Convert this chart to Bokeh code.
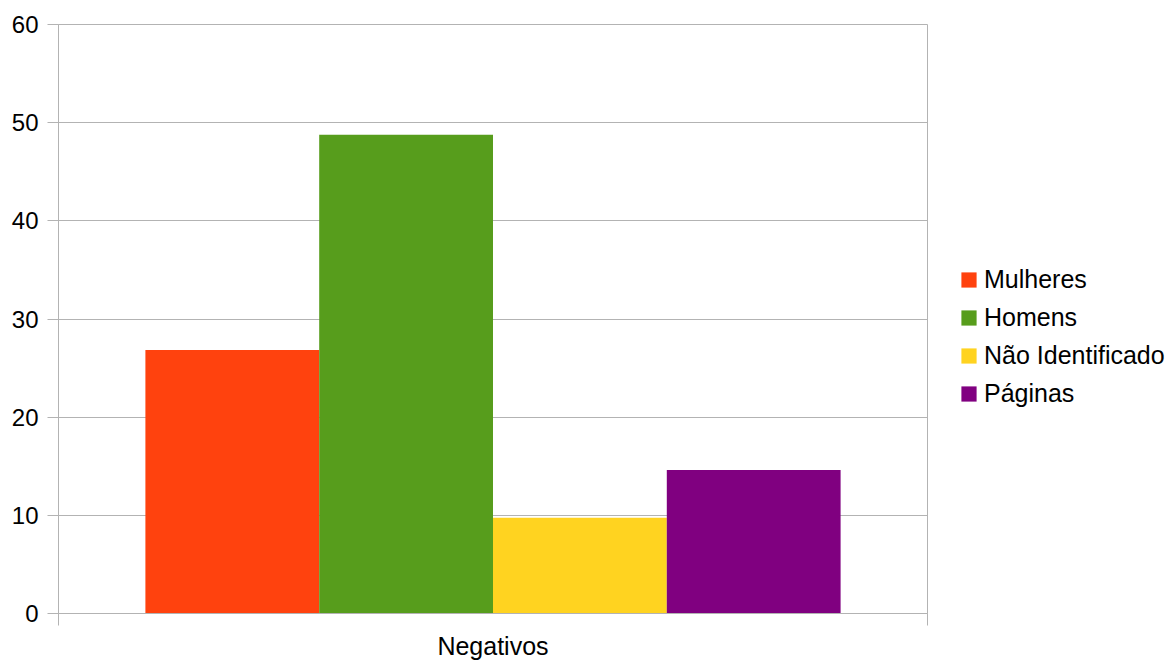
from bokeh.plotting import figure
from bokeh.layouts import row
from bokeh.models import (FactorRange, Range1d, LinearAxis, FixedTicker, Legend,
                          LegendItem, ColumnDataSource)
from bokeh.transform import dodge
from bokeh.embed import file_html
from bokeh.resources import INLINE

# ---- data ----
categories = ["Negativos"]
series = ["Mulheres", "Homens", "Não Identificado", "Páginas"]
values = [26.83, 48.78, 9.76, 14.63]
colors = ["#ff420e", "#579d1c", "#ffd320", "#800080"]
y_ticks = [0, 10, 20, 30, 40, 50, 60]

FONT = "Liberation Sans"
GRID = "#b3b3b3"

p = figure(x_range=FactorRange(factors=categories, range_padding=0),
           y_range=Range1d(0, 60),
           width=928, height=662,
           x_axis_type=None,
           output_backend="svg", toolbar_location=None,
           min_border_left=58, min_border_right=1,
           min_border_top=24, min_border_bottom=49)
p.outline_line_color = GRID
p.background_fill_color = "white"

# bars
n = len(series)
bar_w = 0.8 / n
sources = []
for i, (name, val, col) in enumerate(zip(series, values, colors)):
    src = ColumnDataSource(dict(cat=categories, val=[val]))
    sources.append(src)
    off = -0.4 + bar_w * (i + 0.5)
    p.vbar(x=dodge("cat", off, range=p.x_range), top="val", bottom=0,
           width=bar_w, source=src, fill_color=col, line_color=None)

# y axis
p.yaxis.ticker = FixedTicker(ticks=y_ticks, minor_ticks=[])
p.yaxis.axis_line_color = GRID
p.yaxis.major_tick_line_color = GRID
p.yaxis.major_tick_out = 11
p.yaxis.major_tick_in = 0
p.yaxis.minor_tick_line_color = None
p.yaxis.major_label_standoff = 9
p.yaxis.major_label_text_font = FONT
p.yaxis.major_label_text_font_size = "24px"
p.yaxis.major_label_text_color = "black"
p.ygrid.grid_line_color = GRID

# x axis on the category's synthetic coordinates (0..1):
# label at the category centre, boundary ticks at its edges
xaxis = LinearAxis(ticker=FixedTicker(ticks=[0.5], minor_ticks=[0, 1]),
                   major_label_overrides={0.5: categories[0]},
                   axis_line_color=GRID,
                   major_tick_line_color=None, major_tick_out=0, major_tick_in=0,
                   minor_tick_line_color=GRID, minor_tick_out=12, minor_tick_in=0,
                   major_label_standoff=6,
                   major_label_text_font=FONT,
                   major_label_text_font_size="25px",
                   major_label_text_color="black")
p.add_layout(xaxis, "below")

# legend panel (separate figure beside the chart)
pl = figure(width=247, height=662,
            x_range=FactorRange(factors=categories), y_range=Range1d(0, 1),
            x_axis_type=None, y_axis_type=None,
            output_backend="svg", toolbar_location=None,
            min_border_left=0, min_border_right=0,
            min_border_top=0, min_border_bottom=0)
pl.outline_line_color = None
pl.background_fill_color = "white"
pl.border_fill_color = "white"

items = []
for name, col, src in zip(series, colors, sources):
    r = pl.vbar(x="cat", top="val", width=0.1, source=src,
                fill_color=col, line_color=None, visible=False)
    items.append(LegendItem(label=name, renderers=[r]))

legend = Legend(items=items, location=(31, 204), orientation="vertical",
                margin=0, padding=0, spacing=7,
                glyph_width=19, glyph_height=19, label_height=31,
                label_standoff=6,
                label_text_font=FONT, label_text_font_size="25px",
                label_text_color="black",
                inactive_fill_alpha=0,
                border_line_color=None, background_fill_alpha=0)
pl.add_layout(legend)

layout = row(p, pl, spacing=0)
open("out.html", "w").write(file_html(layout, INLINE))
